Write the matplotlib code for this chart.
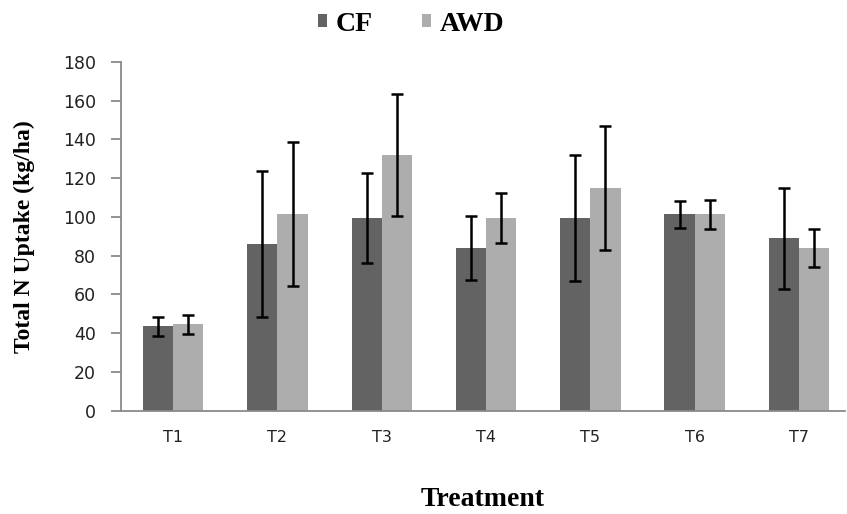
import matplotlib
matplotlib.use("Agg")
import matplotlib.pyplot as plt
import numpy as np

categories = ["T1", "T2", "T3", "T4", "T5", "T6", "T7"]
cf_values = [43.5, 86, 99.5, 84, 99.5, 101.5, 89]
cf_errors = [5, 37.5, 23, 16.5, 32.5, 7, 26]
awd_values = [44.5, 101.5, 132, 99.5, 115, 101.5, 84]
awd_errors = [5, 37, 31.5, 13, 32, 7.5, 10]
yticks = [0, 20, 40, 60, 80, 100, 120, 140, 160, 180]

W, H = 847, 514
fig = plt.figure(figsize=(W / 100, H / 100), dpi=100)
ax = fig.add_axes([121 / W, 1 - 410.7 / H, 724 / W, (410.7 - 62) / H])

x = np.arange(len(categories))
bw = 0.29
err_kw = dict(ecolor="black", elinewidth=1.8, capsize=4.5, capthick=1.8)
ax.bar(x - bw / 2, cf_values, bw, yerr=cf_errors, color="#636363", label="CF",
       error_kw=err_kw, zorder=2)
ax.bar(x + bw / 2, awd_values, bw, yerr=awd_errors, color="#ADADAD", label="AWD",
       error_kw=err_kw, zorder=2)

ax.set_xlim(-0.5, -0.5 + 724 / 104.3)
ax.set_ylim(0, 180)
ax.set_yticks(yticks)
ax.set_xticks(x)
ax.set_xticklabels(categories)

for s in ["top", "right"]:
    ax.spines[s].set_visible(False)
for s in ["left", "bottom"]:
    ax.spines[s].set_color("#8A8A8A")
    ax.spines[s].set_linewidth(1.3)

ax.tick_params(axis="y", direction="out", length=7, width=1.3, color="#8A8A8A",
               pad=11, labelsize=12.5, labelcolor="#222222")
ax.tick_params(axis="x", length=0, pad=14, labelsize=11.5, labelcolor="#222222")

serif = ["Liberation Serif", "DejaVu Serif"]
ax.set_xlabel("Treatment", fontfamily=serif, fontweight="bold", fontsize=20,
              labelpad=30)
ax.set_ylabel("Total N Uptake (kg/ha)", fontfamily=serif, fontweight="bold",
              fontsize=17, labelpad=20)

fig.legend(loc="center", bbox_to_anchor=(411 / W, 1 - 24 / H), ncol=2,
           frameon=False, handlelength=0.35, handleheight=0.35,
           handletextpad=0.3, columnspacing=1.75,
           prop={"family": serif, "weight": "bold", "size": 20})

fig.savefig("out.png", dpi=100)
